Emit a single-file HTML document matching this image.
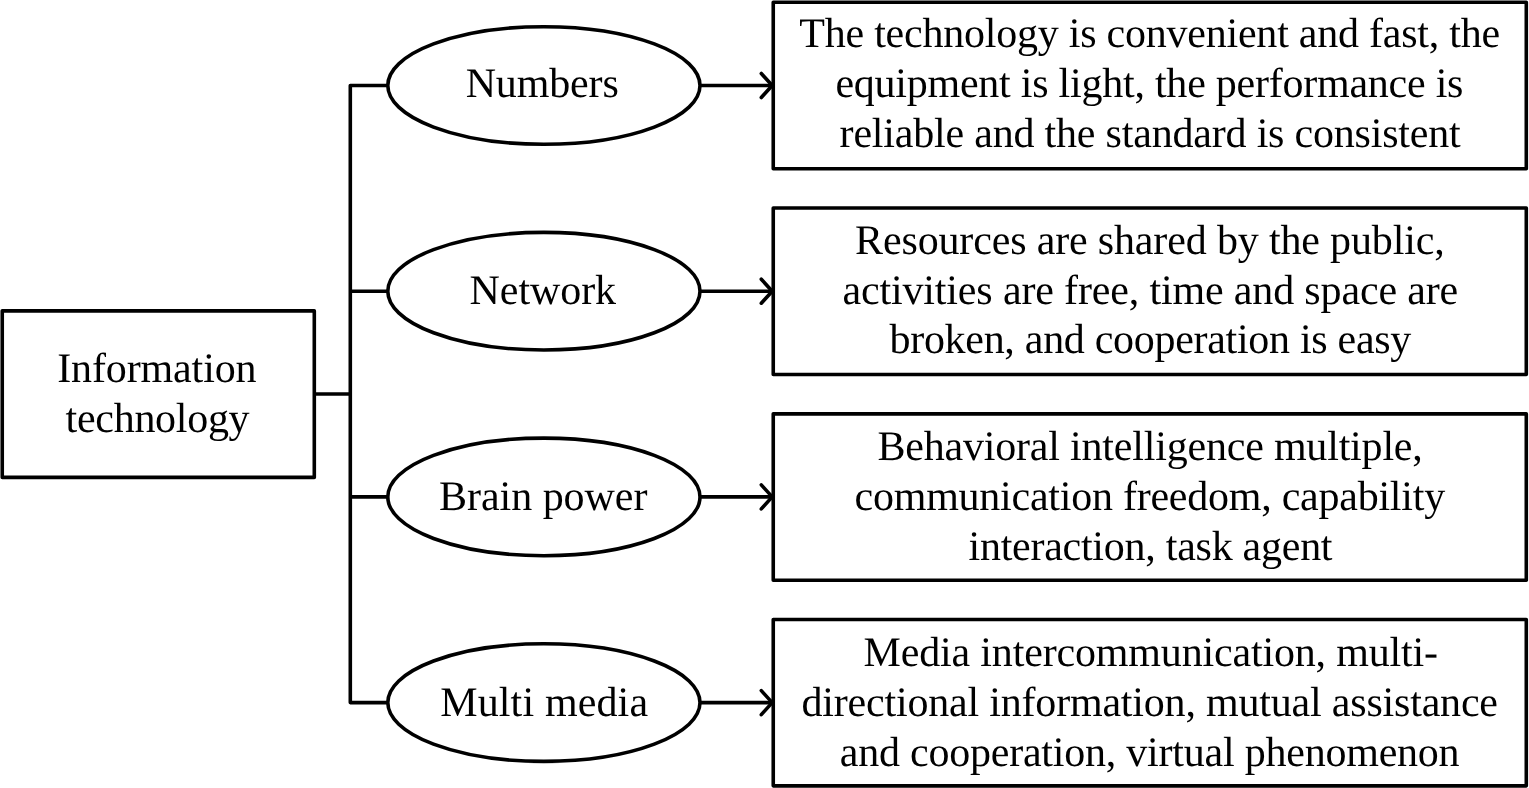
<!DOCTYPE html>
<html><head><meta charset="utf-8"><title>Information technology diagram</title>
<style>
html,body{margin:0;padding:0;background:#fff;}
body{width:1529px;height:788px;overflow:hidden;}
svg{display:block;will-change:transform;}
text{font-family:"Liberation Serif",serif;font-size:42px;fill:#000;white-space:pre;text-rendering:geometricPrecision;}
.s{fill:none;stroke:#000;stroke-width:3.6;stroke-linejoin:round;}
.a{fill:none;stroke:#000;stroke-width:3.6;stroke-linecap:round;stroke-linejoin:round;}
</style></head><body>
<svg width="1529" height="788" viewBox="0 0 1529 788">
<rect x="0" y="0" width="1529" height="788" fill="#fff"/>
<rect class="s" x="2.25" y="310.85" width="312.05" height="166.55"/>
<path class="s" d="M314.3 394.05H350.3"/>
<path class="s" d="M387.8 85.5 H350.3 V702.6 H387.8"/>
<path class="s" d="M350.3 291.2 H387.8 M350.3 496.9 H387.8"/>
<ellipse class="s" cx="543.9" cy="85.5" rx="156.1" ry="58.8"/>
<path class="s" d="M700 85.5 H771.6"/>
<path class="a" d="M761.3 73.5 L772.2 85.5 L761.3 97.5"/>
<rect class="s" x="773.25" y="2.25" width="753.05" height="166.5"/>
<ellipse class="s" cx="543.9" cy="291.2" rx="156.1" ry="58.8"/>
<path class="s" d="M700 291.2 H771.6"/>
<path class="a" d="M761.3 279.2 L772.2 291.2 L761.3 303.2"/>
<rect class="s" x="773.25" y="208.05" width="753.05" height="166.5"/>
<ellipse class="s" cx="543.9" cy="496.9" rx="156.1" ry="58.8"/>
<path class="s" d="M700 496.9 H771.6"/>
<path class="a" d="M761.3 484.9 L772.2 496.9 L761.3 508.9"/>
<rect class="s" x="773.25" y="413.85" width="753.05" height="166.45"/>
<ellipse class="s" cx="543.9" cy="702.6" rx="156.1" ry="58.8"/>
<path class="s" d="M700 702.6 H771.6"/>
<path class="a" d="M761.3 690.6 L772.2 702.6 L761.3 714.6"/>
<rect class="s" x="773.25" y="619.55" width="753.05" height="166.32"/>
<text x="799.30" y="47.00" style="letter-spacing:-0.229px">The technology is convenient and fast, the</text>
<text x="835.40" y="97.00" style="letter-spacing:-0.238px">equipment is light, the performance is</text>
<text x="839.60" y="147.00" style="letter-spacing:-0.197px">reliable and the standard is consistent</text>
<text x="855.10" y="254.00" style="letter-spacing:-0.153px">Resources are shared by the public,</text>
<text x="842.45" y="304.00" style="letter-spacing:-0.150px">activities are free, time and space are</text>
<text x="889.50" y="353.00" style="letter-spacing:-0.293px">broken, and cooperation is easy</text>
<text x="877.40" y="460.00" style="letter-spacing:-0.195px">Behavioral intelligence multiple,</text>
<text x="854.55" y="510.00" style="letter-spacing:-0.241px">communication freedom, capability</text>
<text x="968.50" y="560.00" style="letter-spacing:-0.257px">interaction, task agent</text>
<text x="863.55" y="666.00" style="letter-spacing:-0.166px">Media intercommunication, multi-</text>
<text x="801.55" y="716.00" style="letter-spacing:-0.196px">directional information, mutual assistance</text>
<text x="839.80" y="766.00" style="letter-spacing:-0.226px">and cooperation, virtual phenomenon</text>
<text x="465.70" y="97.00" style="letter-spacing:-0.150px">Numbers</text>
<text x="469.60" y="304.00" style="letter-spacing:-0.075px">Network</text>
<text x="439.05" y="510.00" style="letter-spacing:-0.035px">Brain power</text>
<text x="440.20" y="716.00" style="letter-spacing:0.140px">Multi media</text>
<text x="57.20" y="382.00" style="letter-spacing:-0.125px">Information</text>
<text x="65.60" y="432.00" style="letter-spacing:-0.289px">technology</text>
</svg>
</body></html>
